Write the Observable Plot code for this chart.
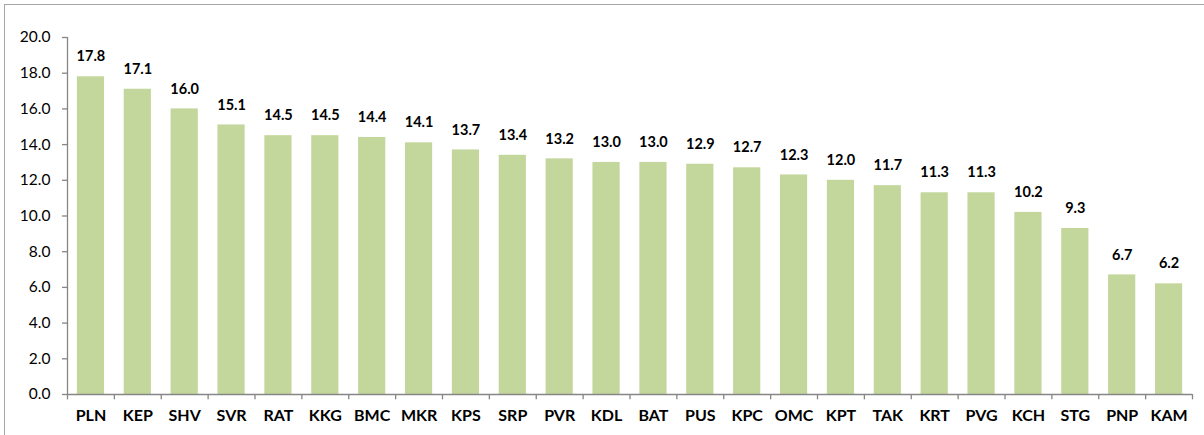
<!DOCTYPE html>
<html><head><meta charset="utf-8">
<script src="https://cdn.jsdelivr.net/npm/d3@7"></script>
<script src="https://cdn.jsdelivr.net/npm/@observablehq/plot@0.6"></script>
<style>
body{margin:0;background:#fff;}
#frame{position:absolute;left:4px;top:4px;width:1300px;height:600px;border:1.5px solid #a6a6a6;box-sizing:border-box;}
#chart{position:absolute;left:0;top:0;}
</style></head>
<body><div id="frame"></div><div id="chart"></div>
<script>
const categories = ["PLN","KEP","SHV","SVR","RAT","KKG","BMC","MKR","KPS","SRP","PVR","KDL","BAT","PUS","KPC","OMC","KPT","TAK","KRT","PVG","KCH","STG","PNP","KAM"];
const values = [17.8,17.1,16.0,15.1,14.5,14.5,14.4,14.1,13.7,13.4,13.2,13.0,13.0,12.9,12.7,12.3,12.0,11.7,11.3,11.3,10.2,9.3,6.7,6.2];
const yTicks = [0,2,4,6,8,10,12,14,16,18,20];

const data = categories.map((c,i)=>({cat:c, value:values[i]}));
const W = 1204, H = 435, ml = 67, mr = 12, mt = 37, mb = 41;
const step = (W-ml-mr)/categories.length;
const axisColor = "#868686";
const font = "Lato, 'Liberation Sans', sans-serif";

const chart = Plot.plot({
  width: W, height: H,
  marginLeft: ml, marginRight: mr, marginTop: mt, marginBottom: mb,
  style: {fontFamily: font, background: "transparent", color: "#000"},
  x: {domain: categories, paddingInner: 0.42, paddingOuter: 0.21, round: false, label: null},
  y: {domain: [0,20], label: null},
  marks: [
    Plot.barY(data, {x:"cat", y:"value", fill:"#C3D69B"}),
    Plot.text(data, {x:"cat", y:"value", text: d=>d.value.toFixed(1), dy:-20, fontWeight:"bold", fontSize:14.5, fill:"#000"}),
    Plot.ruleY([0], {stroke: axisColor, strokeWidth:1.3}),
    Plot.ruleX([categories[0]], {x: d=>d, dx: -step/2, y1: 0, y2: 20, stroke: axisColor, strokeWidth:1.3}),
    Plot.ruleX(categories, {x: d=>d, dx: -step/2, y1: 0, y2: -0.3, stroke: axisColor, strokeWidth:1.3}),
    Plot.ruleX([categories[categories.length-1]], {x: d=>d, dx: step/2, y1: 0, y2: -0.3, stroke: axisColor, strokeWidth:1.3}),
    Plot.axisY(yTicks, {tickSize: 5, stroke: axisColor, strokeOpacity: 1, strokeWidth: 1.3, tickFormat: d=>d.toFixed(1), fontSize: 15.5, tickPadding: 12, fill:"#000", label: null}),
    Plot.axisX({tickSize: 0, tickPadding: 15, fontSize: 16, fontWeight: "bold", fill:"#000", label: null})
  ]
});
document.getElementById("chart").appendChild(chart);
</script>
</body></html>
